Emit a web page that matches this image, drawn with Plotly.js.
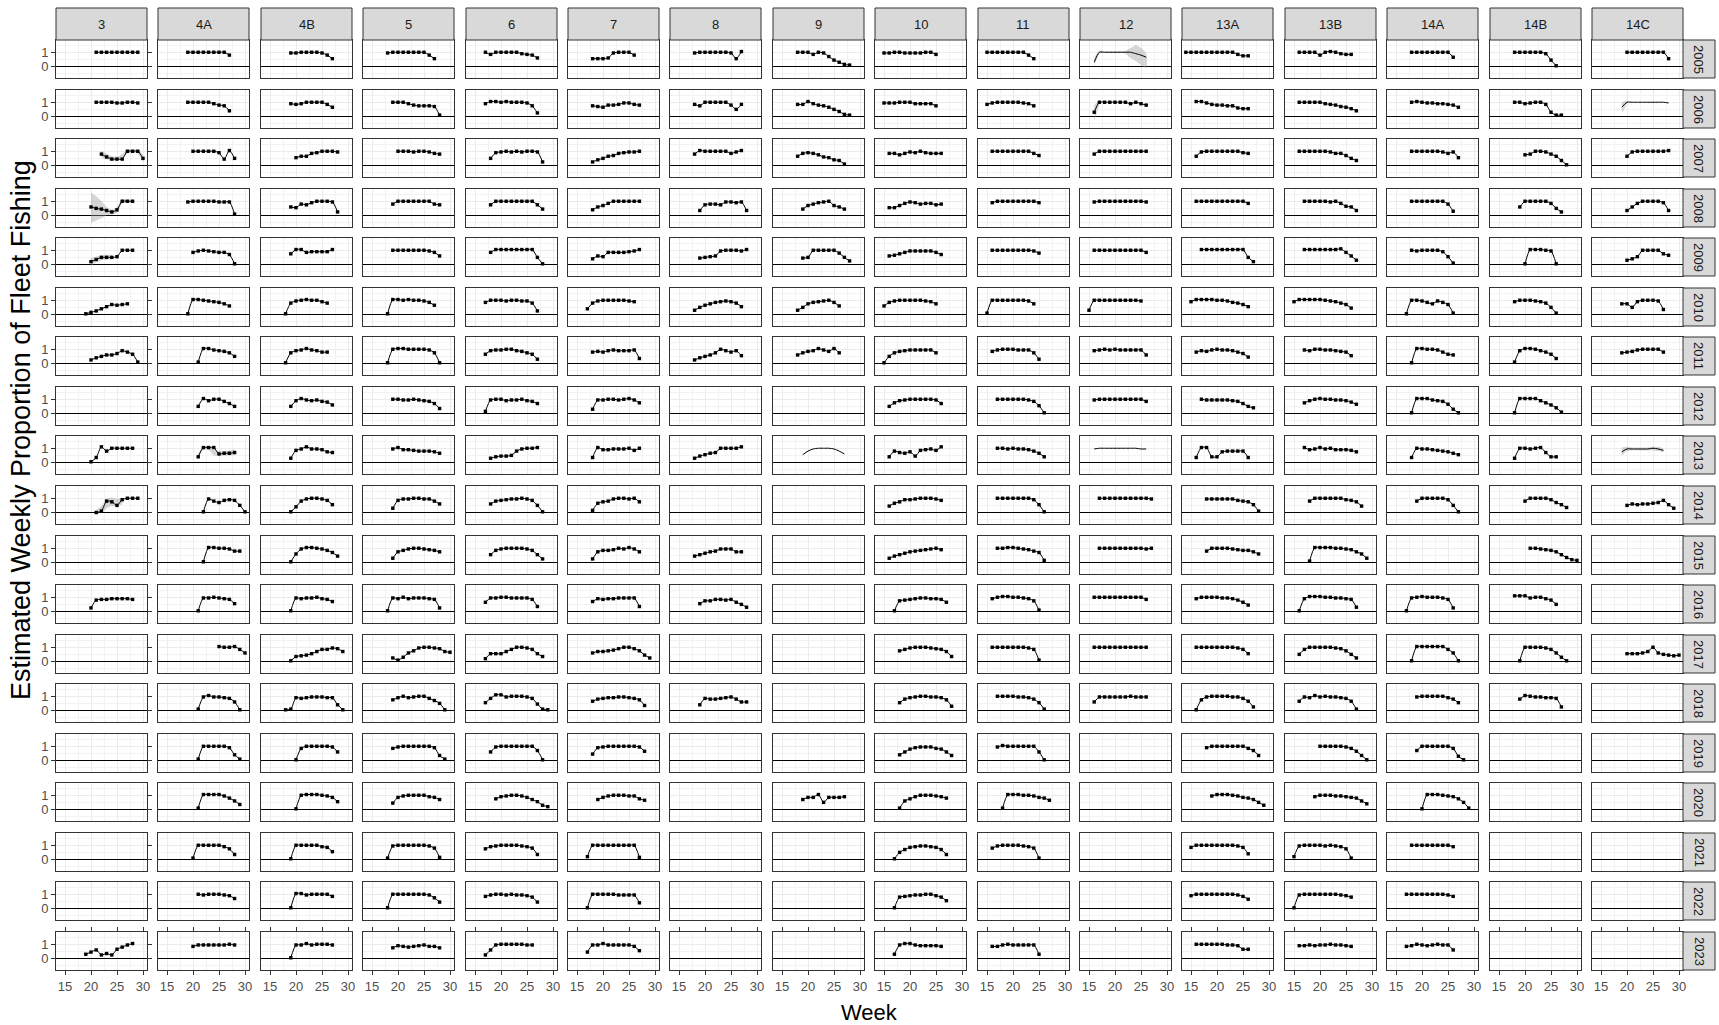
<!DOCTYPE html>
<html>
<head>
<meta charset="utf-8">
<script src="https://cdn.plot.ly/plotly-3.0.1.min.js"></script>
<style>
html,body{margin:0;padding:0;background:#ffffff;}
#chart{width:1719px;height:1025px;}
</style>
</head>
<body>
<div id="chart"></div>
<script>
// ---------------- DATA ----------------
const areas = ["3","4A","4B","5","6","7","8","9","10","11","12","13A","13B","14A","14B","14C"];
const years = [2005,2006,2007,2008,2009,2010,2011,2012,2013,2014,2015,2016,2017,2018,2019,2020,2021,2022,2023];
const xTickVals = [15,20,25,30];
const yTickVals = [0,1];
const yTickText = ["0","1"];
const xTitle = "Week";
const yTitle = "Estimated Weekly Proportion of Fleet Fishing";

// Each entry (one per year, 2005..2023): [first week, proportion for that week, next week, ...] or null
const area_3 = [
 [21,1,1,1,1,1,1,1,1,1],
 [21,1,1,1,1,0.95,0.95,1,1,0.95],
 [22,0.8,0.6,0.45,0.45,0.45,1,1,1,0.5],
 [20,0.6,0.5,0.45,0.35,0.25,0.4,1,1,1],
 [20,0.2,0.35,0.5,0.5,0.5,0.55,1,1,1],
 [19,0.05,0.15,0.25,0.4,0.55,0.7,0.65,0.7,0.75],
 [20,0.25,0.4,0.5,0.6,0.6,0.7,0.9,0.8,0.65,0.1],
 null,
 [20,0.05,0.35,1.1,0.8,1,1,1,1,1],
 [21,0,0.1,0.8,0.75,0.5,0.9,1,1,1],
 null,
 [20,0.25,0.8,0.85,0.85,0.9,0.9,0.9,0.9,0.85],
 null, null, null, null, null, null,
 [19,0.3,0.45,0.6,0.25,0.35,0.25,0.65,0.8,0.95,1.05]
];
const area_4A = [
 [19,1,1,1,1,1,1,1,1,0.8],
 [19,1,1,1,1,1,0.9,0.8,0.75,0.4],
 [20,1,1,1,1,1,0.9,0.45,1.05,0.5],
 [19,0.95,1,1,1,1,1,0.95,0.95,0.95,0.1],
 [20,0.85,0.95,1,0.95,0.9,0.85,0.85,0.7,0.05],
 [19,0.05,1.05,1.05,1,0.95,0.9,0.85,0.75,0.6],
 [21,0.1,1.05,1.05,0.95,0.9,0.85,0.75,0.5],
 [21,0.5,1.05,0.9,1,1,0.85,0.7,0.5],
 [21,0.4,1.05,1.05,1.05,0.6,0.65,0.65,0.7],
 [22,0.05,0.95,0.8,0.7,0.85,0.9,0.85,0.5,0.05],
 [22,0.05,1.05,1.05,1,1,0.95,0.8,0.8],
 [21,0.05,0.95,0.95,1,0.95,0.9,0.85,0.55],
 [25,1.05,1,1,1.05,0.85,0.6],
 [21,0.1,0.95,1.05,0.95,0.95,0.9,0.85,0.6,0.05],
 [21,0.1,1,1,1,1,1,0.9,0.4,0.1],
 [21,0.1,1.05,1.05,1.05,1.05,0.95,0.8,0.6,0.35],
 [20,0.1,1,1,1,1,1,0.9,0.75,0.35],
 [21,1,0.95,1,1,1,0.95,0.9,0.7],
 [20,0.85,0.95,0.95,0.95,0.95,0.95,0.95,1,0.95]
];
const area_4B = [
 [19,0.95,0.95,1,1,1,1,0.95,0.8,0.55],
 [19,0.9,0.85,0.9,1,1,1,1,0.85,0.65],
 [20,0.55,0.65,0.65,0.85,0.9,1,1,1,0.95],
 [19,0.6,0.55,0.8,0.75,0.9,1,1,1,0.95,0.25],
 [19,0.75,1.05,1.05,0.85,0.9,0.9,0.9,0.9,1.05],
 [18,0.05,0.8,0.95,1,1.05,1,1,0.9,0.8],
 [18,0.05,0.75,0.9,0.95,1.05,0.95,0.9,0.8,0.8],
 [19,0.5,0.9,1.05,0.95,0.9,0.95,0.85,0.8,0.6],
 [19,0.3,0.85,0.95,1.1,0.95,0.95,0.9,0.75,0.7],
 [19,0.05,0.4,0.8,0.95,1,1,0.95,0.85,0.55],
 [19,0.05,0.6,0.95,1.05,1.05,1,0.95,0.85,0.7,0.45],
 [19,0.05,0.95,0.9,0.95,0.95,1,0.9,0.85,0.7],
 [19,0.05,0.35,0.4,0.45,0.55,0.7,0.85,0.85,0.95,0.9,0.7],
 [18,0.05,0.1,0.9,0.85,0.9,0.95,0.95,0.95,0.9,0.9,0.4,0.05],
 [20,0.05,0.85,1,1,1,1,1,0.95,0.6],
 [20,0.05,1,1.05,1.05,1.05,1,0.95,0.85,0.55],
 [19,0.05,1,1,1,1,1,0.9,0.85,0.55],
 [19,0.05,1.05,1.05,0.95,1,1,1,1,0.85],
 [19,0.05,0.95,0.95,1.05,0.95,1,1,1,0.95]
];
const area_5 = [
 [18,0.95,1,1,1,1,1,1,1,0.8,0.55],
 [19,1,1,1,0.9,0.8,0.75,0.75,0.75,0.7,0.1],
 [20,1,1,1,0.95,1,1,0.95,0.85,0.8],
 [19,0.8,1,1,1,1,1,1,1,0.8,0.75],
 [19,1,1,1,1,1,1,1,0.95,0.85,0.6],
 [18,0.05,1.05,1.05,1,1.05,1,1,0.95,0.85,0.65],
 [18,0.05,1,1.05,1.05,1,1,1,1,0.95,0.75,0.05],
 [19,1,1,0.95,0.95,1,0.95,0.9,0.85,0.7,0.35],
 [19,0.95,1.05,0.9,0.9,0.85,0.8,0.8,0.8,0.75,0.65],
 [19,0.3,0.85,0.95,0.95,1,1,0.95,0.95,0.8,0.6],
 [19,0.3,0.75,0.85,0.95,1,1,0.95,0.9,0.85,0.75],
 [18,0.05,0.95,0.9,1,0.9,0.95,0.95,0.95,0.9,0.85,0.25],
 [19,0.25,0.1,0.3,0.6,0.75,0.95,1,1,0.95,0.9,0.7,0.65],
 [19,0.75,0.9,1,0.9,0.95,1,1,0.85,0.7,0.5,0.05],
 [19,0.85,0.95,1,1,1,1,1,1,0.9,0.35,0.1],
 [19,0.45,0.85,0.95,1,1,1,1,0.9,0.85,0.7],
 [18,0.1,0.95,1,1,1,1,1,1,0.95,0.8,0.15],
 [18,0.05,1,1,1,1,1,1,1,0.95,0.75,0.45],
 [19,0.75,0.9,0.85,0.8,0.85,0.9,0.95,0.85,0.85,0.75]
];
const area_6 = [
 [17,1,0.85,1,1,1,1,1,0.9,0.85,0.8,0.6],
 [17,0.9,1.05,1.05,1,1.05,1,1,1,0.95,0.75,0.25],
 [18,0.5,0.9,0.95,1,0.95,1,0.95,1,1,0.95,0.25],
 [18,0.75,1,1,1,1,1,1,1,1,0.75,0.45],
 [18,0.85,1.05,1.05,1.05,1.05,1.05,1.05,1.05,1.05,0.5,0.05],
 [17,0.85,1,1,1,0.95,1,1,0.95,0.95,0.8,0.25],
 [17,0.65,0.9,0.95,0.95,1,1,0.9,0.85,0.75,0.65,0.3],
 [17,0.15,0.95,1,1,0.9,0.95,0.95,1,0.9,0.85,0.7],
 [18,0.3,0.4,0.45,0.45,0.5,0.8,0.95,1,1,1.05],
 [18,0.6,0.8,0.85,0.9,0.95,0.95,1,0.95,0.85,0.5,0.05],
 [18,0.55,0.85,0.95,1,1,1,1,0.95,0.85,0.55,0.25],
 [17,0.65,0.95,0.95,1,1,0.95,0.95,0.95,0.95,0.85,0.35],
 [17,0.2,0.55,0.55,0.55,0.7,0.85,1,1,0.95,0.85,0.55,0.35],
 [17,0.55,0.85,1.1,1.1,0.95,1,1,1,0.95,0.85,0.45,0.1,0.05],
 [18,0.6,0.95,1,1,1,1,1,1,1,0.7,0.05],
 [19,0.75,0.9,0.95,1,1,0.95,0.85,0.7,0.55,0.3,0.2],
 [17,0.75,0.9,0.95,1,1,1,1,0.95,0.9,0.8,0.35],
 [17,0.85,0.95,1,1,0.95,1,0.95,0.95,0.9,0.8,0.45],
 [17,0.25,0.6,0.95,1,1,1,1,1,0.95,0.95]
];
const area_7 = [
 [18,0.55,0.55,0.55,0.6,0.95,1,1,1,0.8],
 [18,0.75,0.7,0.65,0.8,0.8,0.85,0.95,0.95,0.85,0.8],
 [18,0.25,0.4,0.5,0.65,0.7,0.85,0.9,0.95,0.95,1],
 [18,0.4,0.6,0.7,0.85,1,1,1,1,1,1],
 [18,0.4,0.6,0.55,0.85,0.85,0.85,0.85,0.9,0.95,1.05],
 [17,0.4,0.8,0.95,1,1,1,1,1,0.95,0.9],
 [18,0.8,0.85,0.8,0.9,0.95,0.9,0.9,0.9,0.95,0.35],
 [18,0.3,0.95,0.95,1,1,0.95,1,1.05,0.95,0.75],
 [18,0.35,1.05,0.9,0.9,0.95,0.95,0.95,1,0.85,1],
 [18,0.15,0.65,0.75,0.8,0.95,1,1,0.95,1,0.75],
 [18,0.25,0.75,0.85,0.85,0.9,1,0.95,1.05,0.95,0.75],
 [18,0.7,0.9,0.85,0.9,0.9,0.95,0.95,0.95,0.95,0.35],
 [18,0.6,0.7,0.7,0.75,0.8,0.9,1,1,0.9,0.75,0.45,0.25],
 [18,0.65,0.8,0.85,0.9,0.9,0.95,0.95,0.9,0.85,0.75,0.35],
 [18,0.45,0.9,0.95,1,1,1,1,1,1,0.95,0.65],
 [19,0.7,0.85,0.95,1,1,1,0.95,0.95,0.75,0.65],
 [17,0.2,1,1,1,1,1,1,1,1,1,0.15],
 [17,0.05,1,1,1,1,1,0.95,0.95,0.95,0.95,0.4],
 [17,0.45,0.95,0.95,1.05,0.95,0.95,0.95,0.95,0.95,0.85,0.55]
];
const area_8 = [
 [18,0.95,1,1,1,1,1,1,0.95,0.55,1.05],
 [18,0.85,0.75,1,1,1,1,1,0.8,0.5,0.85],
 [18,0.8,1.05,1,1,1,1,1,0.85,0.95,1.05],
 [19,0.35,0.75,0.8,0.8,0.75,0.95,0.95,0.9,0.95,0.35],
 [19,0.45,0.5,0.55,0.6,0.95,1,1,1,0.95,1.05],
 [18,0.3,0.5,0.65,0.75,0.85,0.9,0.95,0.9,0.8,0.55],
 [18,0.25,0.4,0.5,0.6,0.75,1,0.9,0.8,0.9,0.55],
 null,
 [18,0.3,0.45,0.55,0.65,0.7,1,1,1,1,1.1],
 null,
 [18,0.45,0.55,0.65,0.75,0.8,0.95,0.95,0.95,0.75,0.75],
 [19,0.55,0.75,0.75,0.85,0.85,0.8,0.85,0.65,0.5,0.3],
 null,
 [19,0.4,0.85,0.8,0.8,0.85,0.9,0.95,0.8,0.6,0.6],
 null, null, null, null, null
];
const area_9 = [
 [18,1,1,1,0.85,1,0.95,0.7,0.45,0.3,0.15,0.1],
 [18,0.85,0.85,1.05,0.9,0.8,0.75,0.65,0.5,0.35,0.15,0.1],
 [18,0.65,0.85,0.9,0.85,0.75,0.6,0.55,0.4,0.35,0.1],
 [19,0.45,0.7,0.8,0.9,0.95,1,0.7,0.6,0.45],
 [19,0.45,0.5,1,1,1,1,1,0.8,0.5,0.25],
 [18,0.3,0.5,0.75,0.85,0.9,0.95,1,0.85,0.6],
 [18,0.6,0.75,0.85,0.9,1.05,0.95,0.85,1.05,0.75],
 null,
 [19,0.55,0.8,0.95,1,1,1,0.95,0.8,0.6],
 null, null, null, null, null, null,
 [19,0.7,0.85,0.85,1.05,0.5,0.85,0.85,0.85,0.9],
 null, null, null
];
const area_10 = [
 [15,0.95,0.95,1,1,0.95,0.95,0.95,0.95,1,1,0.85],
 [15,0.95,0.95,0.95,1,1,1,0.9,0.9,0.9,0.9,0.75],
 [16,0.85,0.85,0.75,0.85,0.95,0.9,1,0.9,0.85,0.85,0.85],
 [16,0.55,0.55,0.7,0.85,0.95,0.9,0.8,0.85,0.85,0.75,0.8],
 [16,0.6,0.65,0.75,0.85,0.95,0.95,0.95,0.95,0.95,0.85,0.7],
 [15,0.6,0.85,0.95,1,1,1,1,1,0.95,0.9,0.75],
 [15,0.05,0.5,0.75,0.85,0.9,0.95,0.95,0.95,0.95,0.95,0.75],
 [16,0.5,0.75,0.9,0.95,1,1,1,1,1,0.95,0.7],
 [16,0.4,0.8,0.7,0.65,0.75,0.45,0.85,0.9,0.95,0.85,1.1],
 [16,0.45,0.65,0.75,0.9,0.9,0.95,1,1,1,0.95,0.85],
 [16,0.3,0.45,0.55,0.65,0.75,0.8,0.85,0.9,0.95,1,0.9],
 [17,0.05,0.75,0.8,0.85,0.9,0.95,0.95,0.9,0.9,0.85,0.65],
 [18,0.75,0.85,0.95,1,1,1,0.95,0.9,0.85,0.7,0.35],
 [18,0.55,0.8,0.9,0.95,1,1,0.95,0.95,0.9,0.75,0.3],
 [18,0.4,0.6,0.8,0.9,0.95,0.95,0.95,0.85,0.8,0.6,0.35],
 [18,0.1,0.6,0.75,0.9,1,1,1,0.95,0.9,0.8],
 [17,0.05,0.5,0.7,0.85,0.9,0.95,0.95,0.9,0.85,0.7,0.35],
 [17,0.05,0.8,0.85,0.9,0.95,0.95,1,1,0.9,0.8,0.55],
 [17,0.3,0.95,1.05,1.05,0.95,0.9,0.9,0.9,0.9,0.85]
];
const area_11 = [
 [15,1,1,1,1,1,1,1,1,0.8,0.55],
 [15,0.85,0.95,1,1,1,1,1,0.95,0.9,0.75],
 [16,1,1,1,1,1,1,1,1,0.85,0.7],
 [16,0.9,1,1,1,1,1,1,1,1,0.9],
 [16,1,1,1,1,1,1,1,1,0.95,0.8],
 [15,0.1,1,1,1,1,1,1,1,0.95,0.75],
 [16,0.85,0.95,1,1,1,0.95,0.95,0.95,0.75,0.3],
 [17,1,1,1,1,1,1,0.95,0.85,0.55,0.05],
 [17,1,1,0.95,1,0.95,0.95,0.9,0.8,0.65,0.4],
 [17,1,1,1,1,1,1,1,0.9,0.55,0.05],
 [17,1,1,1.05,1.05,1,0.95,0.9,0.8,0.7,0.15],
 [16,0.9,1,1.05,1.05,1,1,0.95,0.9,0.75,0.1],
 [16,1,1,1,1,1,1,1,0.95,0.85,0.1],
 [17,1,1,1,1,0.95,0.95,0.9,0.8,0.55,0.1],
 [17,0.95,1.05,1,1,1,1,1,1,0.6,0.05],
 [18,0.1,1.05,1.05,1.05,1,1,0.95,0.85,0.8,0.65],
 [16,0.8,0.95,1,1,1,1,0.95,0.9,0.8,0.1],
 null,
 [16,0.85,0.85,0.95,1,0.95,0.95,0.95,0.95,0.95,0.3]
];
const area_12 = [
 [16,0.3,1,1,1,1,1,1,1,0.9,0.8,0.65],
 [16,0.3,1,1,1,1,1,1,0.9,1,0.9,0.8],
 [16,0.8,1,1,1,1,1,1,1,1,1,1],
 [16,0.95,1,1,1,1,1,1,1,1,1,0.95],
 [16,1,1,1,1,1,1,1,1,1,1,0.85],
 [15,0.3,1,1,1,1,1,1,1,1,1,0.95],
 [16,0.9,0.95,1,0.95,1,0.95,0.95,0.95,0.95,0.95,0.6],
 [16,0.95,1,1,1,1,1,1,1,1,1,0.85],
 [16,0.95,1,1,1,1,1,1,1,1,0.95,0.95],
 [17,1,1,1,1,1,1,1,1,1,1,0.95],
 [17,1,1,1,1,1,1,1,1,1,0.95,1],
 [16,1,1,1,1,1,1,1,1,1,1,0.85],
 [16,1,1,1,1,1,1,1,1,1,1,1],
 [16,0.6,0.95,0.95,0.95,0.95,0.95,0.95,1,0.95,0.95,0.95],
 null, null, null, null, null
];
const area_13A = [
 [14,1,1,1,1,1,1,1,1,1,1,0.85,0.75,0.75],
 [16,1.05,1.05,0.95,0.85,0.8,0.8,0.75,0.75,0.6,0.55,0.55],
 [16,0.65,0.95,1,1,1,1,1,1,1,0.9,0.85],
 [16,1,1,1,1,1,1,1,1,1,1,0.85],
 [17,1.05,1.05,1.05,1.05,1.05,1.05,1.05,1.05,1.05,0.5,0.2],
 [15,0.9,1.05,1.05,1.05,1.05,1,1,0.95,0.85,0.8,0.7,0.55],
 [16,0.8,0.9,0.85,0.95,1,0.95,0.95,0.9,0.8,0.7,0.45],
 [17,1,0.95,0.95,0.95,0.95,0.95,0.9,0.85,0.7,0.5,0.4],
 [16,0.35,1.05,1.05,0.4,0.4,0.75,0.8,0.8,0.8,0.8,0.35],
 [18,0.95,0.95,0.95,0.95,0.95,0.95,0.85,0.8,0.75,0.55,0.1],
 [18,0.8,1,1,1,1,0.95,0.9,0.85,0.85,0.75,0.6],
 [16,0.9,1,1,1,1,0.95,0.95,0.9,0.8,0.65,0.45],
 [16,1,1,1,1,1,1,1,1,0.95,0.85,0.55],
 [16,0.05,0.75,0.95,1,1,1,1,0.95,0.95,0.85,0.65,0.25],
 [18,0.9,1,1,1,1,1,1,1,0.85,0.7,0.35],
 [19,0.95,1.05,1.05,1.05,1,0.95,0.85,0.8,0.7,0.5,0.3],
 [15,0.85,1,1,1,1,1,1,1,1,0.95,0.85,0.4],
 [15,0.9,1,1,1,1,1,1,1,1,0.95,0.85,0.65],
 [16,1,1,1,1,1,1,0.95,0.95,0.9,0.65,0.65]
];
const area_13B = [
 [16,1,1,1,1,0.8,1,1.05,1,0.9,0.85,0.85],
 [16,1,1,1,1,1,0.9,0.85,0.8,0.7,0.65,0.55,0.4],
 [16,1,1,1,1,1,1,0.95,0.85,0.85,0.7,0.5,0.35],
 [17,1,1,1,1,1,0.95,1,0.85,0.65,0.6,0.35],
 [17,1.05,1.05,1.05,1.05,1.05,1.05,1.05,1.1,0.85,0.6,0.3],
 [15,0.9,1.05,1.05,1.05,1.05,1.05,1,0.95,0.9,0.8,0.7,0.45],
 [17,0.95,0.9,1,1,0.95,0.95,0.9,0.85,0.8,0.55],
 [17,0.75,0.9,1,1.05,1,1,0.95,0.95,0.9,0.8,0.65],
 [17,1.05,0.9,0.95,1.05,0.95,1,0.9,0.9,0.9,0.85,0.75],
 [18,0.8,1,1,1,1,1,1,0.9,0.85,0.75,0.45],
 [18,0.1,1.05,1.05,1.05,1.05,1,1,0.95,0.9,0.75,0.6,0.3],
 [16,0.05,0.9,1.05,1.05,1.05,1,1,0.95,0.95,0.9,0.85,0.3],
 [16,0.5,0.85,1,1,1,1,1,0.95,0.9,0.75,0.5,0.25],
 [16,0.65,0.95,0.9,1.05,0.95,1,0.95,0.95,0.9,0.85,0.65,0.1],
 [20,1,1,1,1,1,0.95,0.85,0.65,0.35,0.05],
 [19,0.9,1,1,1,0.95,0.95,0.9,0.85,0.8,0.6,0.4],
 [15,0.2,0.95,1,1,1,1,0.95,1,0.95,0.9,0.75,0.1],
 [15,0.05,0.95,1,1,1,1,1,1,1,0.95,0.9,0.8],
 [16,0.9,0.9,0.95,0.9,0.95,0.95,1,0.95,0.95,0.9,0.85]
];
const area_14A = [
 [18,1,1,1,1,1,1,1,1,0.65],
 [18,1,1.05,1,0.95,0.95,0.9,0.9,0.85,0.8,0.65],
 [18,1,1,1,1,1,1,0.95,0.85,0.95,0.55],
 [18,1,1,1,1,1,1,1,0.8,0.3],
 [18,1,0.95,1,1,1,1,0.9,0.55,0.1],
 [17,0.05,1,1,0.95,0.85,0.75,0.95,0.85,0.7,0.1],
 [18,0.05,1.05,1.05,1,1,0.95,0.8,0.65,0.6],
 [18,0.05,1.05,1.05,1.05,0.95,0.9,0.85,0.65,0.3,0.05],
 [18,0.35,1,0.95,0.95,0.9,0.85,0.8,0.75,0.65,0.55],
 [19,0.8,1,1,1,1,1,0.9,0.5,0.05],
 null,
 [17,0.05,0.95,1,1.05,1,1,1,0.95,0.85,0.25],
 [18,0.05,1.05,1.05,1.05,1.05,1.05,1.05,0.85,0.6,0.05],
 [19,0.95,1,1,1,1,1,0.9,0.8,0.55],
 [19,0.7,1,1,1,1,1,1,0.85,0.3,0.05],
 [20,0.05,1.05,1.05,1.05,1,0.95,0.9,0.75,0.5,0.1],
 [18,1,1,1,1,1,1,1,1,0.9],
 [17,1,1,1,1,1,1,1,1,0.95,0.85],
 [17,0.85,0.9,1,0.95,0.9,0.95,1,0.95,0.95,0.6]
];
const area_14B = [
 [18,1,1,1,1,1,1,0.9,0.45,0.05],
 [18,1,1,0.9,0.95,1,1,0.85,0.3,0.1,0.1],
 [20,0.75,0.8,1,1,0.95,0.8,0.65,0.35,0.05],
 [19,0.6,1,1,1,1,1,0.85,0.5,0.25],
 [20,0.05,1.05,1.05,1.05,1,0.95,0.05],
 [18,0.9,1,1,1,0.95,0.9,0.8,0.5,0.1],
 [18,0.1,0.9,1.05,1.05,1,0.9,0.8,0.65,0.35],
 [18,0.05,1.05,1.05,1.05,1.05,0.9,0.75,0.6,0.4,0.1],
 [18,0.3,1,1,0.95,1,1.05,0.7,0.4,0.4],
 [20,0.8,1,1,1,1,0.9,0.7,0.55,0.35],
 [21,1,1,0.95,0.9,0.85,0.75,0.55,0.35,0.2,0.15],
 [18,1.1,1.1,1.1,0.95,1,1,0.9,0.8,0.5],
 [19,0.05,1,1,1,1,0.95,0.85,0.6,0.3,0.05],
 [19,0.8,1.05,1,0.95,0.95,0.9,0.9,0.85,0.25],
 null, null, null, null, null
];
const area_14C = [
 [20,1,1,1,1,1,1,1,1,0.55],
 [19,0.65,1,1,1,1,1,1,1,1,0.95],
 [20,0.65,0.95,1,1,1,1,1,1,1.05],
 [20,0.35,0.6,0.85,1,1,1,1,0.9,0.35],
 [20,0.3,0.4,0.55,1,1,1,1,0.75,0.65],
 [19,0.75,0.75,0.5,0.9,1,1,1,0.95,0.35],
 [19,0.75,0.8,0.85,0.95,1,1,1,1,0.8],
 null,
 [19,0.75,0.95,0.95,0.95,0.95,0.95,1,0.95,0.85],
 [20,0.5,0.6,0.55,0.6,0.6,0.65,0.7,0.85,0.55,0.3],
 null, null,
 [20,0.55,0.55,0.55,0.6,0.7,1,0.6,0.5,0.45,0.4,0.45],
 null, null, null, null, null, null
];
// panels in which only the smoothed curve is visible (no points)
const lineOnlyPanels = [["9",2013],["12",2005],["12",2013],["14C",2006],["14C",2013]];

// visible confidence bands: [area, year, first week, lower bounds, upper bounds]
const ribbonBands = [
 ["3", 2007, 22, [0.55,0.42,0.33,0.35,0.55,0.85,0.9,0.85,0.3], [1.05,0.82,0.65,0.62,0.8,1.1,1.1,1.1,0.72]],
 ["3", 2008, 20, [-0.5,-0.35,-0.2,0.0,0.08,0.2,0.85,0.9,0.9], [1.6,1.35,1.0,0.6,0.42,0.6,1.15,1.1,1.1]],
 ["3", 2009, 20, [-0.1,0.15,0.3,0.35,0.4], [0.45,0.55,0.65,0.68,0.65]],
 ["3", 2014, 21, [-0.15,0.0,0.3,0.45,0.45,0.6], [0.2,0.45,0.95,1.05,0.95,1.0]],
 ["4A", 2013, 21, [0.3,0.9,0.9,0.5,0.5,0.5,0.5,0.55], [0.6,1.1,1.1,0.9,0.8,0.8,0.85,0.9]],
 ["12", 2005, 16, [0.0,0.9,0.95,0.95,0.95,0.95,0.9,0.6,0.4,0.1,-0.1], [0.6,1.1,1.05,1.05,1.05,1.05,1.1,1.3,1.5,1.3,0.9]],
 ["12", 2006, 16, [-0.3,0.9], [0.8,1.1]],
 ["14C", 2006, 19, [0.25,0.9], [1.0,1.1]],
 ["14C", 2013, 19, [0.45,0.8,0.85,0.85,0.85,0.85,0.85,0.8,0.75], [1.05,1.1,1.05,1.05,1.05,1.05,1.1,1.1,0.95]]
];

const seriesByArea = [area_3, area_4A, area_4B, area_5, area_6, area_7, area_8, area_9,
                      area_10, area_11, area_12, area_13A, area_13B, area_14A, area_14B, area_14C];

// ---------------- LAYOUT GEOMETRY ----------------
const W = 1719, H = 1025;
const M = {l: 56, r: 36, t: 40, b: 55};
const plotW = W - M.l - M.r, plotH = H - M.t - M.b;
const panelW = 91, panelH = 38;
const colStep = (plotW - panelW) / (areas.length - 1);
const rowStep = (plotH - panelH) / (years.length - 1);
const stripSize = 32;
const FONT = "Liberation Sans, Arial, Helvetica, sans-serif";
const nRows = years.length;

function xId(c){ return c === 0 ? 'x' : 'x' + (c + 1); }
function yId(r){ return r === 0 ? 'y' : 'y' + (r + 1); }
function colDomain(c){
  const left = Math.round(c*colStep);
  return [left/plotW, Math.min(1, (left + panelW)/plotW)];
}
function rowDomain(r){
  const top = Math.round(r*rowStep), bot = top + panelH;
  return [Math.max(0, 1 - bot/plotH), Math.min(1, 1 - top/plotH)];
}

const traces = [];
const layout = {
  width: W, height: H,
  margin: M,
  paper_bgcolor: '#ffffff',
  plot_bgcolor: '#ffffff',
  showlegend: false,
  font: {family: FONT, color: '#1a1a1a'},
  shapes: [], annotations: []
};

// axes
areas.forEach((a, c) => {
  layout[c === 0 ? 'xaxis' : 'xaxis' + (c + 1)] = {
    domain: colDomain(c), anchor: yId(nRows - 1),
    range: [13.27, 30.77], fixedrange: true,
    tickmode: 'array', tickvals: xTickVals, ticktext: xTickVals.map(String),
    showgrid: true, gridcolor: '#ebebeb', gridwidth: 1,
    minor: {tickmode: 'linear', tick0: 12.5, dtick: 5, showgrid: true, gridcolor: '#f3f3f3', gridwidth: 1, ticks: ''},
    zeroline: false,
    showline: true, linecolor: '#333333', linewidth: 1, mirror: 'all',
    ticks: 'outside', ticklen: 4, tickwidth: 1, tickcolor: '#333333',
    tickfont: {family: FONT, size: 13, color: '#4d4d4d'}
  };
});
years.forEach((y, r) => {
  layout[r === 0 ? 'yaxis' : 'yaxis' + (r + 1)] = {
    domain: rowDomain(r), anchor: 'x',
    range: [-0.807, 1.86], fixedrange: true,
    tickmode: 'array', tickvals: yTickVals, ticktext: yTickText,
    showgrid: true, gridcolor: '#ebebeb', gridwidth: 1,
    minor: {tickmode: 'linear', tick0: 0.5, dtick: 1, showgrid: true, gridcolor: '#f3f3f3', gridwidth: 1, ticks: ''},
    zeroline: true, zerolinecolor: '#000000', zerolinewidth: 1,
    showline: true, linecolor: '#333333', linewidth: 1, mirror: 'all',
    ticks: 'outside', ticklen: 4, tickwidth: 1, tickcolor: '#333333',
    tickfont: {family: FONT, size: 13, color: '#4d4d4d'}
  };
});

// confidence bands (drawn first, beneath the curves)
ribbonBands.forEach(b => {
  const c = areas.indexOf(b[0]), r = years.indexOf(b[1]);
  const lo = b[3], hi = b[4];
  const wk = hi.map((v, i) => b[2] + i);
  traces.push({
    type: 'scatter', xaxis: xId(c), yaxis: yId(r), hoverinfo: 'skip', showlegend: false,
    x: wk.concat(wk.slice().reverse()),
    y: hi.concat(lo.slice().reverse()),
    mode: 'lines', fill: 'toself', fillcolor: 'rgba(153,153,153,0.4)',
    line: {width: 0, color: 'rgba(0,0,0,0)', shape: 'spline', smoothing: 0.8}
  });
});

// data traces
areas.forEach((a, c) => {
  const series = seriesByArea[c];
  years.forEach((yr, r) => {
    const entry = series[r];
    const base = {type: 'scatter', xaxis: xId(c), yaxis: yId(r), hoverinfo: 'skip', showlegend: false, cliponaxis: true};
    if (!entry) {
      traces.push(Object.assign({}, base, {x: [null], y: [null], mode: 'markers', marker: {size: 1, color: 'rgba(0,0,0,0)'}}));
      return;
    }
    const start = entry[0];
    const vals = entry.slice(1);
    const weeks = vals.map((v, i) => start + i);
    const lineOnly = lineOnlyPanels.some(p => p[0] === a && p[1] === yr);
    traces.push(Object.assign({}, base, {
      x: weeks, y: vals,
      mode: lineOnly ? 'lines' : 'lines+markers',
      line: {color: '#000000', width: 1, shape: 'spline', smoothing: 0.7},
      marker: {color: '#000000', size: 3.4, symbol: 'square'}
    }));
  });
});

// strips: column headers (top) and year labels (right)
areas.forEach((a, c) => {
  const d = colDomain(c);
  layout.shapes.push({type: 'rect', xref: 'paper', yref: 'paper', layer: 'above',
    x0: d[0], x1: d[1], y0: 1, y1: 1 + stripSize/plotH,
    fillcolor: '#d9d9d9', line: {color: '#333333', width: 1}});
  layout.annotations.push({xref: 'paper', yref: 'paper', x: (d[0] + d[1]) / 2, y: 1 + stripSize/(2*plotH),
    text: a, showarrow: false, xanchor: 'center', yanchor: 'middle',
    font: {family: FONT, size: 13, color: '#1a1a1a'}});
});
years.forEach((yr, r) => {
  const d = rowDomain(r);
  layout.shapes.push({type: 'rect', xref: 'paper', yref: 'paper', layer: 'above',
    x0: 1, x1: 1 + stripSize/plotW, y0: d[0], y1: d[1],
    fillcolor: '#d9d9d9', line: {color: '#333333', width: 1}});
  layout.annotations.push({xref: 'paper', yref: 'paper', x: 1 + stripSize/(2*plotW), y: (d[0] + d[1]) / 2,
    text: String(yr), showarrow: false, xanchor: 'center', yanchor: 'middle', textangle: 90,
    font: {family: FONT, size: 13, color: '#1a1a1a'}});
});

// overall titles
layout.annotations.push({xref: 'paper', yref: 'paper', x: -35/plotW, y: (M.t + plotH - 430)/plotH,
  text: yTitle, showarrow: false, textangle: -90, xanchor: 'center', yanchor: 'middle',
  font: {family: FONT, size: 27, color: '#000000'}});
layout.annotations.push({xref: 'paper', yref: 'paper', x: 0.5, y: -42/plotH,
  text: xTitle, showarrow: false, xanchor: 'center', yanchor: 'middle',
  font: {family: FONT, size: 22, color: '#000000'}});

Plotly.newPlot('chart', traces, layout, {displayModeBar: false});
</script>
</body>
</html>
